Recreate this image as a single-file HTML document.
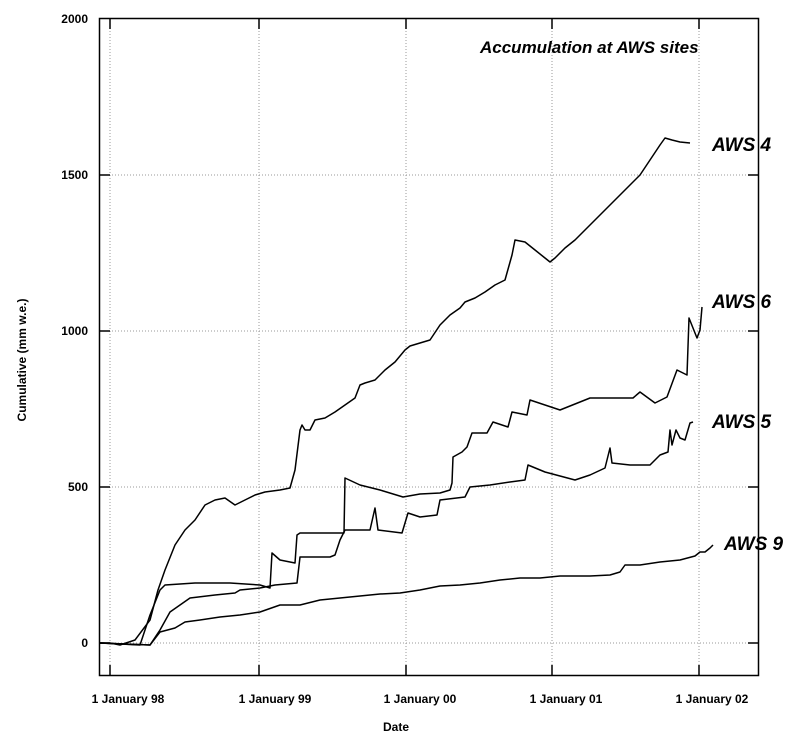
<!DOCTYPE html>
<html><head><style>body{margin:0;background:#fff}svg{display:block}</style></head><body>
<svg width="800" height="748" viewBox="0 0 800 748" xmlns="http://www.w3.org/2000/svg" font-family="Liberation Sans, Arial, sans-serif">
<g stroke="#999" stroke-width="1" stroke-dasharray="1,2">
<line x1="100" y1="175" x2="758" y2="175"/><line x1="100" y1="331" x2="758" y2="331"/><line x1="100" y1="487" x2="758" y2="487"/><line x1="100" y1="643" x2="758" y2="643"/>
<line x1="110" y1="19" x2="110" y2="675"/><line x1="259" y1="19" x2="259" y2="675"/><line x1="406" y1="19" x2="406" y2="675"/><line x1="552" y1="19" x2="552" y2="675"/><line x1="699" y1="19" x2="699" y2="675"/>
</g>
<rect x="99.5" y="18.5" width="659" height="657" fill="none" stroke="#000" stroke-width="1.5"/>
<g stroke="#000" stroke-width="1.5">
<line x1="110" y1="675" x2="110" y2="665"/><line x1="259" y1="675" x2="259" y2="665"/><line x1="406" y1="675" x2="406" y2="665"/><line x1="552" y1="675" x2="552" y2="665"/><line x1="699" y1="675" x2="699" y2="665"/>
<line x1="110" y1="19" x2="110" y2="29"/><line x1="259" y1="19" x2="259" y2="29"/><line x1="406" y1="19" x2="406" y2="29"/><line x1="552" y1="19" x2="552" y2="29"/><line x1="699" y1="19" x2="699" y2="29"/>
<line x1="100" y1="175" x2="110" y2="175"/><line x1="100" y1="331" x2="110" y2="331"/><line x1="100" y1="487" x2="110" y2="487"/><line x1="100" y1="643" x2="110" y2="643"/>
<line x1="758" y1="175" x2="748" y2="175"/><line x1="758" y1="331" x2="748" y2="331"/><line x1="758" y1="487" x2="748" y2="487"/><line x1="758" y1="643" x2="748" y2="643"/>
</g>
<g fill="none" stroke="#000" stroke-width="1.5" stroke-linejoin="round">
<polyline points="100,643 110,643 120,645 135,640 150,620 158,590 165,570 175,545 185,530 195,520 205,505 215,500 225,498 235,505 245,500 255,495 265,492 280,490 290,488 295,470 300,430 302,425 305,430 310,430 315,420 325,418 335,412 345,405 355,398 360,385 365,383 375,380 385,370 395,362 405,350 410,346 420,343 430,340 440,325 445,320 450,315 460,308 465,302 475,298 485,292 495,285 505,280 512,255 515,240 525,242 535,250 545,258 550,262 555,258 565,248 575,240 590,225 600,215 610,205 620,195 630,185 640,175 650,160 660,145 665,138 672,140 680,142 690,143"/>
<polyline points="100,643 140,645 150,615 160,590 165,585 195,583 230,583 260,585 270,588 272,553 280,560 295,563 297,535 300,533 344,533 345,478 360,485 380,490 403,497 420,494 440,493 450,490 452,483 453,457 462,452 467,447 472,433 487,433 493,422 508,427 512,412 527,415 530,400 545,405 560,410 590,398 633,398 640,392 655,403 667,397 677,370 687,375 689,318 697,338 700,330 702,307"/>
<polyline points="100,643 150,645 160,630 170,612 190,598 215,595 235,593 240,590 260,588 275,585 297,583 300,557 330,557 335,555 340,540 345,530 370,530 375,508 378,530 402,533 408,513 420,517 437,515 440,500 465,497 470,487 490,485 510,482 525,480 528,465 545,472 575,480 590,475 605,468 610,448 612,463 630,465 650,465 655,460 660,455 668,452 670,430 672,445 676,430 680,438 685,440 690,423 693,422"/>
<polyline points="100,643 150,645 160,632 175,628 185,622 200,620 220,617 240,615 260,612 280,605 300,605 320,600 340,598 360,596 380,594 400,593 420,590 440,586 460,585 480,583 500,580 520,578 540,578 560,576 590,576 610,575 620,572 625,565 640,565 660,562 680,560 695,556 700,552 705,552 710,548 713,545"/>
</g>
<g font-size="12" font-weight="bold" text-anchor="end">
<text x="88" y="23">2000</text><text x="88" y="179">1500</text><text x="88" y="335">1000</text><text x="88" y="491">500</text><text x="88" y="647">0</text>
</g>
<g font-size="12" font-weight="bold" text-anchor="middle">
<text x="128" y="703">1 January 98</text><text x="275" y="703">1 January 99</text><text x="420" y="703">1 January 00</text><text x="566" y="703">1 January 01</text><text x="712" y="703">1 January 02</text>
<text x="396" y="731">Date</text>
<text transform="translate(26,360) rotate(-90)">Cumulative (mm w.e.)</text>
</g>
<g font-weight="bold" font-style="italic">
<text x="480" y="53" font-size="17">Accumulation at AWS sites</text>
<text x="712" y="151" font-size="19">AWS 4</text>
<text x="712" y="308" font-size="19">AWS 6</text>
<text x="712" y="428" font-size="19">AWS 5</text>
<text x="724" y="550" font-size="19">AWS 9</text>
</g>
</svg>
</body></html>
